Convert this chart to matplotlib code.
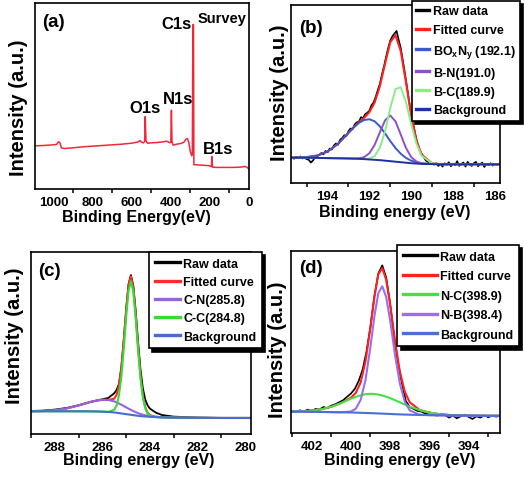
import numpy as np
import matplotlib
matplotlib.use("Agg")
import matplotlib.pyplot as plt
from matplotlib.ticker import MultipleLocator
from matplotlib.lines import Line2D

# (a) survey spectrum
survey_be = [1095, 1050, 1000, 985, 975, 968, 960, 945, 900, 850,
             800, 750, 700, 650, 600, 570, 558, 550, 540, 534,
             531, 527, 520, 500, 470, 440, 420, 405, 400, 397,
             394, 388, 370, 350, 335, 322, 315, 308, 300, 293,
             290, 287, 284, 282, 270, 250, 220, 205, 195, 192,
             190, 187, 170, 120, 80, 40, 20, 12, 0]
survey_int = [130, 131, 133, 134, 142, 140, 124, 122, 124, 127,
              129, 131, 133, 135, 138, 141, 146, 141, 139, 143,
              218, 145, 138, 139, 140, 142, 144, 139, 141, 237,
              142, 132, 135, 137, 140, 150, 152, 140, 112, 100,
              106, 495, 495, 73, 73, 72, 71, 70, 68, 68,
              98, 66, 65, 65, 65, 66, 68, 66, 60]
survey_labels = [("C1s", 371, 498), ("N1s", 361, 273), ("O1s", 531, 245), ("B1s", 156, 123)]

# (b) B 1s
b_raw_be = np.linspace(195.7, 185.8, 100)
b_raw = [75, 71, 77, 73, 78, 72, 74, 70, 68, 60,
         66, 75, 78, 82, 88, 84, 94, 90, 101, 98,
         110, 116, 112, 127, 132, 140, 138, 152, 160, 158,
         172, 178, 180, 193, 190, 202, 206, 212, 228, 236,
         252, 272, 290, 318, 342, 370, 396, 418, 430, 438,
         446, 420, 396, 360, 322, 282, 240, 204, 172, 142,
         116, 96, 86, 76, 66, 62, 60, 57, 54, 58,
         50, 56, 48, 58, 53, 61, 49, 57, 52, 64,
         50, 56, 60, 48, 62, 54, 50, 58, 62, 49,
         55, 60, 47, 56, 52, 58, 51, 55, 53, 56]
b_be = [195.75, 195.0, 194.5, 194.0, 193.5, 193.0, 192.75, 192.5, 192.25, 192.0,
        191.75, 191.5, 191.25, 191.0, 190.75, 190.5, 190.25, 190.0, 189.75, 189.5,
        189.0, 188.5, 188.0, 187.0, 185.75]
b_fit = [74.2, 76.0, 80.4, 92.2, 115.0, 147.0, 163.2, 177.9, 191.1, 207.7,
         235.7, 283.3, 349.9, 413.0, 433.6, 387.1, 295.8, 198.6, 125.4, 83.0,
         57.7, 55, 55, 55, 55]
b_boxny = [74.2, 76.0, 80.4, 92.2, 115.0, 147.0, 162.9, 176.4, 184.7, 187.0,
           181.0, 166.2, 145.5, 123.0, 102.5, 85.9, 73.7, 65.4, 60.6, 57.6,
           55.7, 55, 55, 55, 55]
b_bn = [74, 74, 73.5, 73, 72.5, 72, 71.8, 72.5, 75.9, 87.1,
        111.5, 148.3, 183.8, 198.0, 180.8, 142.3, 103.0, 76.1, 62.9, 57.5,
        55.5, 55, 55, 55, 55]
b_bc = [74, 74, 73.5, 73, 72.5, 72, 71.5, 71, 70.5, 71.6,
        79.2, 102.8, 151.6, 220.0, 275.3, 280.9, 238.1, 173.1, 115.9, 79.9,
        57.5, 55, 55, 55, 55]
b_bg = [74, 74, 73.5, 73, 72.5, 72, 71.5, 71, 70, 69,
        68, 67, 65.5, 64, 62.5, 61, 59.5, 58, 57, 56,
        55.5, 55, 55, 55, 55]

# (c) C 1s
c_be = [289.0, 288.5, 288.0, 287.5, 287.0, 286.5, 286.25, 286.0, 285.75, 285.5,
        285.4, 285.3, 285.2, 285.1, 285.0, 284.9, 284.8, 284.7, 284.6, 284.5,
        284.4, 284.3, 284.2, 284.1, 284.0, 283.75, 283.5, 283.0, 282.0, 281.0, 279.7]
c_raw = [69, 70, 73, 78, 86, 96, 100, 104, 108, 122,
         132, 150, 200, 282, 372, 448, 476, 445, 370, 278,
         196, 138, 104, 86, 76, 64, 57, 52, 49, 48, 48]
c_fit = [68.2, 68.9, 71.2, 76.5, 85.5, 96.0, 100.0, 102.3, 102.3, 105.6,
         117.2, 145.4, 198.8, 278.5, 370.4, 445.2, 472.3, 439.2, 359.5, 262.7,
         176.6, 116.4, 81.3, 64.0, 56.4, 51.5, 50.3, 49, 48.5, 48, 48]
c_cn = [68.2, 68.9, 71.2, 76.5, 85.5, 96.0, 100.0, 102.3, 102.0, 97.7,
        94.7, 91.3, 87.6, 83.8, 79.9, 76.0, 72.3, 68.8, 65.5, 62.5,
        59.8, 57.9, 56.2, 54.8, 53.5, 51.4, 50.3, 49, 48.5, 48, 48]
c_cc = [68, 68, 68, 68, 68, 67.8, 67.5, 67, 66.3, 72.4,
        86.0, 116.6, 172.7, 255.2, 350.0, 427.7, 457.5, 426.9, 349.5, 254.7,
        170.3, 111.5, 77.6, 61.2, 54.4, 50.6, 50, 49, 48.5, 48, 48]
c_bg = [68, 68, 68, 68, 68, 67.8, 67.5, 67, 66, 64.5,
        63.5, 62.5, 61.5, 60.5, 59.5, 58.5, 57.5, 56.5, 55.5, 54.5,
        53.5, 53, 52.5, 52, 51.5, 50.5, 50, 49, 48.5, 48, 48]

# (d) N 1s
d_raw_be = np.linspace(403.0, 392.4, 54)
d_raw = [66, 63, 68, 64, 70, 66, 72, 70, 78, 74,
         82, 86, 92, 98, 108, 118, 132, 156, 190, 245,
         320, 410, 478, 502, 466, 388, 290, 210, 150, 96,
         78, 72, 66, 64, 58, 62, 56, 52, 58, 54,
         46, 52, 44, 50, 55, 48, 42, 50, 46, 53,
         47, 52, 49, 51]
d_be = [403.1, 402.5, 402.0, 401.5, 401.0, 400.5, 400.0, 399.75, 399.5, 399.25,
        399.0, 398.8, 398.6, 398.4, 398.2, 398.0, 397.75, 397.5, 397.25, 397.0,
        396.5, 396.0, 395.5, 395.0, 394.0, 393.0, 392.4]
d_fit = [64.3, 65.3, 67.0, 71.1, 78.6, 89.7, 105.4, 120.0, 151.6, 215.8,
         316.8, 407.3, 475.6, 493.8, 458.8, 385.8, 276.1, 183.0, 123.3, 91.9,
         69.2, 61.1, 56.6, 54.0, 52.2, 51.5, 51.5]
d_nc = [64.3, 65.3, 67.0, 71.1, 78.6, 89.7, 102.6, 108.3, 113.0, 116.2,
        117.4, 116.8, 115.1, 112.4, 108.8, 104.4, 98.2, 91.6, 85.1, 78.9,
        68.4, 61.1, 56.6, 54.0, 52.2, 51.5, 51.5]
d_nb = [64, 64, 63.5, 63, 62.5, 62, 64.3, 72.7, 99.1, 159.6,
        258.9, 349.5, 419.0, 439.4, 407.5, 338.4, 234.2, 147.1, 93.4, 67.8,
        54.8, 53.5, 53, 52.5, 52, 51.5, 51.5]
d_bg = [64, 64, 63.5, 63, 62.5, 62, 61.5, 61, 60.5, 60,
        59.5, 59, 58.5, 58, 57.5, 57, 56.3, 55.7, 55.2, 54.8,
        54, 53.5, 53, 52.5, 52, 51.5, 51.5]

plt.rcParams["font.family"] = "Liberation Sans"
plt.rcParams["font.weight"] = "bold"
plt.rcParams["axes.labelweight"] = "bold"
plt.rcParams["mathtext.fontset"] = "custom"
plt.rcParams["mathtext.rm"] = "Liberation Sans:bold"
plt.rcParams["mathtext.bf"] = "Liberation Sans:bold"
plt.rcParams["mathtext.default"] = "rm"
plt.rcParams["axes.linewidth"] = 1.2

W, H = 524, 481
fig = plt.figure(figsize=(W / 100, H / 100), dpi=100)


def add_axes(l, r, t, b):
    return fig.add_axes([l / W, 1 - b / H, (r - l) / W, (b - t) / H])


def style(ax, xlim, ylim, major, minor, xlabel, xl_pos, yl_pos):
    ax.set_xlim(*xlim)
    ax.set_ylim(*ylim)
    ax.xaxis.set_major_locator(MultipleLocator(major))
    ax.xaxis.set_minor_locator(MultipleLocator(minor))
    ax.tick_params(axis="x", which="major", length=0, pad=5, labelsize=9.5)
    ax.tick_params(axis="x", which="minor", direction="out", length=3, width=1.1)
    ax.set_yticks([])
    ax.set_xlabel(xlabel, fontsize=11.5)
    ax.xaxis.set_label_coords(*xl_pos)
    ax.set_ylabel("Intensity (a.u.)", fontsize=14.5)
    ax.yaxis.set_label_coords(*yl_pos)


def legend(ax, handles, labels, corner, hlen, spacing, pad=0.45):
    ax.legend(handles, labels, loc="upper right", bbox_to_anchor=(corner[0] / W, 1 - corner[1] / H),
              bbox_transform=fig.transFigure, borderaxespad=0, fontsize=9,
              handlelength=hlen, handletextpad=0.3, labelspacing=spacing, borderpad=pad,
              fancybox=False, framealpha=1, edgecolor="black",
              shadow={"ox": 2.5, "oy": -2.5, "shade": 1.0, "alpha": 1})
    ax.get_legend().get_frame().set_linewidth(1.2)


def handle(color):
    return Line2D([], [], color=color, lw=2.4)


# ---- (a)
ax = add_axes(35, 249, 4, 190)
ax.plot(survey_be, survey_int, color="#ee2a3a", lw=1.1)
style(ax, (1095, 0), (0, 560), 200, 100, "Binding Energy(eV)", (0.472, -0.108), (-0.031, 0.441))
ax.text(0.033, 0.898, "(a)", transform=ax.transAxes, fontsize=13.5, ha="left", va="center")
for lbl, xe, yv in survey_labels:
    ax.text(xe, yv, lbl, fontsize=12, ha="center", va="center")
ax.text(139, 515, "Survey", fontsize=10.5, ha="center", va="center")

# ---- (b)
ax = add_axes(291, 500, 6, 184)
ax.plot(b_raw_be, b_raw, color="black", lw=1.2)
ax.plot(b_be, b_fit, color="#ff2020", lw=1.5)
ax.plot(b_be, b_boxny, color="#3a5ac8", lw=1.4)
ax.plot(b_be, b_bn, color="#8c50c8", lw=1.4)
ax.plot(b_be, b_bc, color="#88ee88", lw=1.4)
ax.plot(b_be, b_bg, color="#2030a0", lw=1.4)
style(ax, (195.75, 185.75), (0, 522), 2, 1, "Binding energy (eV)", (0.498, -0.116), (-0.011, 0.511))
ax.text(0.038, 0.871, "(b)", transform=ax.transAxes, fontsize=13.5, ha="left", va="center")
legend(ax, [handle(c) for c in ["black", "#ff2020", "#3a5ac8", "#8c50c8", "#88ee88", "#2030a0"]],
       ["Raw data", "Fitted curve", r"BO$_\mathbf{x}$N$_\mathbf{y}$ (192.1)", "B-N(191.0)",
        "B-C(189.9)", "Background"], (520, 1.7), 1.0, 0.55, pad=0.35)

# ---- (c)
ax = add_axes(31, 251, 253, 435)
ax.plot(c_be, c_raw, color="black", lw=1.3)
ax.plot(c_be, c_fit, color="#ff2a2a", lw=1.5)
ax.plot(c_be, c_cn, color="#9664dc", lw=1.5)
ax.plot(c_be, c_cc, color="#33dd33", lw=1.5)
ax.plot(c_be, c_bg, color="#4a6ad8", lw=1.5)
style(ax, (289.0, 279.75), (0, 545), 2, 1, "Binding energy (eV)", (0.491, -0.099), (-0.032, 0.544))
ax.text(0.032, 0.898, "(c)", transform=ax.transAxes, fontsize=13.5, ha="left", va="center")
legend(ax, [handle(c) for c in ["black", "#ff2a2a", "#9664dc", "#33dd33", "#4a6ad8"]],
       ["Raw data", "Fitted curve", "C-N(285.8)", "C-C(284.8)", "Background"], (262, 253), 2.0, 0.5)

# ---- (d)
ax = add_axes(291, 500, 252, 434)
ax.plot(d_raw_be, d_raw, color="black", lw=1.2)
ax.plot(d_be, d_fit, color="#ff2020", lw=1.5)
ax.plot(d_be, d_nc, color="#44e044", lw=1.5)
ax.plot(d_be, d_nb, color="#9a6ef0", lw=1.5)
ax.plot(d_be, d_bg, color="#4a70d8", lw=1.5)
style(ax, (403.05, 392.4), (0, 545), 2, 1, "Binding energy (eV)", (0.519, -0.104), (-0.019, 0.462))
ax.text(0.038, 0.907, "(d)", transform=ax.transAxes, fontsize=13.5, ha="left", va="center")
legend(ax, [handle(c) for c in ["black", "#ff2020", "#44e044", "#9a6ef0", "#4a70d8"]],
       ["Raw data", "Fitted curve", "N-C(398.9)", "N-B(398.4)", "Background"], (519, 246), 2.7, 0.6)

fig.savefig("out.png", dpi=100)
